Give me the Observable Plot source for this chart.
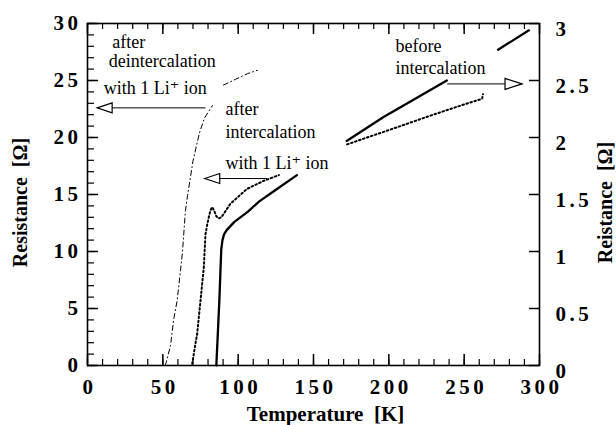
<!DOCTYPE html>
<html><head><meta charset="utf-8">
<script src="https://cdn.jsdelivr.net/npm/d3@7"></script>
<script src="https://cdn.jsdelivr.net/npm/@observablehq/plot@0.6"></script>
<style>
html,body{margin:0;padding:0;background:#fff;}
#chart svg, #chart svg text {font-family: "Liberation Serif", "Times New Roman", "DejaVu Serif", serif !important;}
#chart svg g[aria-label="x-axis tick label"] text,
#chart svg g[aria-label="y-axis tick label"] text {letter-spacing:3.5px;}
#chart svg g[aria-label="axis-title"] text {letter-spacing:3px;}
</style></head><body><div id="chart"></div>
<script>
// ---- data ----
// before intercalation (right axis, Ω); null = gap in the record
const beforeT = [85.5, 86.5, 87.6, 88.3, 88.8, 89.6, 90.6, 92.5, 97.5, 106.5, 114, 126, 139, null, 172, 196.5, 217.5, 238.5, null, 272.5, 293];
const beforeR = [0, 0.28, 0.6, 0.85, 1.02, 1.10, 1.15, 1.19, 1.26, 1.35, 1.44, 1.55, 1.67, null, 1.97, 2.18, 2.34, 2.50, null, 2.77, 2.94];
// after intercalation with 1 Li+ ion (left axis, Ω)
const interT = [69.5, 71, 72.8, 75, 77.2, 78.3, 79.5, 80.5, 81.6, 82.7, 84, 85.5, 87.1, 88.8, 90.4, 94.9, 100, 106, 117, 127, null, 172.3, 190, 207.7, 225, 243, 261.9, 262.5];
const interR = [0.15, 1.4, 2.8, 5.7, 8.6, 11.5, 12.4, 13, 13.6, 13.9, 13.6, 13.1, 12.9, 13.0, 13.3, 14.2, 14.8, 15.5, 16.2, 16.7, null, 19.4, 20.2, 21.0, 21.8, 22.6, 23.4, 23.8];
// after deintercalation with 1 Li+ ion (left axis, Ω)
const deinterT = [51.5, 52.2, 55.1, 57.1, 59.5, 61.7, 63.0, 65.0, 66.4, 70.1, 74.3, 77.6, 82.9, null, 90.2, 98.2, 106.2, 112.8];
const deinterR = [0, 0.26, 1.75, 3.95, 5.7, 8.3, 9.9, 13.6, 14.9, 18.0, 20.4, 21.7, 22.8, null, 24.6, 25.1, 25.6, 25.9];

const xTicks = [0, 50, 100, 150, 200, 250, 300];
const xMinor = d3.range(0, 301, 10);
const yLeftTicks = [0, 5, 10, 15, 20, 25, 30];
const yLeftMinor = d3.range(0, 31, 1);
const yRightTicks = [0, 0.5, 1, 1.5, 2, 2.5, 3];

const annText = ["after", "deintercalation", "with 1 Li\u207A ion", "after", "intercalation", "with 1 Li\u207A ion", "before", "intercalation"];
const annT = [16.4, 14.1, 10.8, 91.6, 91.6, 91.6, 204.4, 204.4];
const annR = [28.4, 26.7, 24.3, 22.5, 20.5, 17.7, 28.0, 26.05];

const arrowR = [22.6, 16.4, 24.7];
const arrowFrom = [78.3, 119.2, 238.7];
const arrowTo = [6.4, 77.8, 288.4];

// ---- build tables ----
const mk = (T, R, k) => T.map((t, i) => ({t: t == null ? NaN : t, r: R[i] == null ? NaN : R[i] * k}));
const before = mk(beforeT, beforeR, 10);   // right-axis values drawn on the shared scale
const inter = mk(interT, interR, 1);
const deinter = mk(deinterT, deinterR, 1);
const ann = annText.map((s, i) => ({s, t: annT[i], r: annR[i]}));
const arrows = arrowR.map((r, i) => ({r, x1: arrowFrom[i], x2: arrowTo[i], left: arrowTo[i] < arrowFrom[i]}));

const headLeft = {draw(ctx) { ctx.moveTo(0, 0); ctx.lineTo(15, -5); ctx.lineTo(15, 5); ctx.closePath(); }};
const headRight = {draw(ctx) { ctx.moveTo(0, 0); ctx.lineTo(-17, -5.5); ctx.lineTo(-17, 5.5); ctx.closePath(); }};

const W = 616, H = 425, mL = 87, mR = 77, mT = 23, mB = 60;
const PW = W - mL - mR, PH = H - mT - mB;
const tickFont = {fontSize: 21, fontWeight: "bold"};

const chart = Plot.plot({
  width: W, height: H,
  marginLeft: mL, marginRight: mR, marginTop: mT, marginBottom: mB,
  style: {fontFamily: "'Liberation Serif', 'Times New Roman', serif", color: "black", background: "white", overflow: "visible"},
  x: {domain: [0, 300], label: null},
  y: {domain: [0, 30], label: null},
  marks: [
    // tick marks (inward)
    Plot.tickY(yLeftMinor, {y: d => d, insetRight: PW - 7, stroke: "black", strokeWidth: 1.2}),
    Plot.tickY(yLeftTicks, {y: d => d, insetRight: PW - 11, stroke: "black", strokeWidth: 1.5}),
    Plot.tickY(yRightTicks, {y: d => d * 10, insetLeft: PW - 10, stroke: "black", strokeWidth: 1.5}),
    Plot.tickX(xMinor, {x: d => d, insetTop: PH - 6, stroke: "black", strokeWidth: 1.2}),
    Plot.tickX(xTicks, {x: d => d, insetTop: PH - 11, stroke: "black", strokeWidth: 1.5}),
    Plot.tickX(xMinor, {x: d => d, insetBottom: PH - 6, stroke: "black", strokeWidth: 1.2}),
    Plot.tickX(xTicks, {x: d => d, insetBottom: PH - 11, stroke: "black", strokeWidth: 1.5}),
    Plot.frame({stroke: "black", strokeWidth: 1.6}),
    // tick labels
    Plot.axisX({ticks: xTicks, tickSize: 0, tickPadding: 14, ...tickFont, dx: 2}),
    Plot.axisY({anchor: "left", ticks: yLeftTicks, tickSize: 0, tickPadding: 6, ...tickFont}),
    Plot.axisY({anchor: "right", ticks: yRightTicks.map(v => v * 10), tickFormat: d => String(d / 10), tickSize: 0, tickPadding: 16, dy: 6, ...tickFont}),
    // curves
    Plot.line(deinter, {x: "t", y: "r", stroke: "black", strokeWidth: 1, strokeDasharray: "5,3,1,3"}),
    Plot.line(inter, {x: "t", y: "r", stroke: "black", strokeWidth: 2, strokeDasharray: "1.6,2.6"}),
    Plot.line(before, {x: "t", y: "r", stroke: "black", strokeWidth: 2.3}),
    // annotations
    Plot.link(arrows, {x1: "x1", x2: "x2", y1: "r", y2: "r", stroke: "black", strokeWidth: 1}),
    Plot.dot(arrows.filter(a => a.left), {x: "x2", y: "r", symbol: headLeft, fill: "white", stroke: "black", strokeWidth: 1.2}),
    Plot.dot(arrows.filter(a => !a.left), {x: "x2", y: "r", symbol: headRight, fill: "white", stroke: "black", strokeWidth: 1.2}),
    Plot.text(ann, {x: "t", y: "r", text: "s", textAnchor: "start", lineAnchor: "middle", fontSize: 18, fill: "black"}),
    // axis titles
    Plot.text(["Temperature  [K]"], {frameAnchor: "bottom", textAnchor: "middle", dx: 12, dy: 55, fontSize: 21, fontWeight: "bold", fill: "black", ariaLabel: "axis-title"}),
    Plot.text(["Resistance  [\u03A9]"], {frameAnchor: "left", textAnchor: "middle", lineAnchor: "middle", rotate: -90, dx: -67, dy: 8, fontSize: 20, fontWeight: "bold", fill: "black", ariaLabel: "axis-title"}),
    Plot.text(["Reistance  [\u03A9]"], {frameAnchor: "right", textAnchor: "middle", lineAnchor: "middle", rotate: -90, dx: 66, dy: 8, fontSize: 20, fontWeight: "bold", fill: "black", ariaLabel: "axis-title"})
  ]
});
document.getElementById("chart").appendChild(chart);
</script></body></html>
